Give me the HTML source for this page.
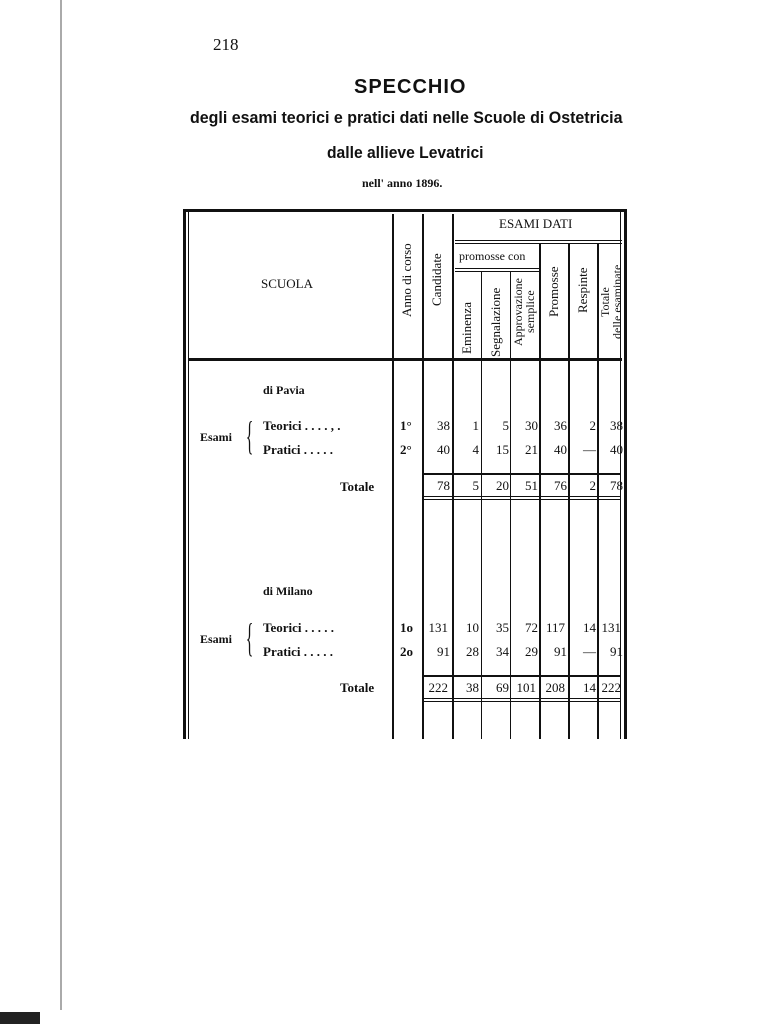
<!DOCTYPE html>
<html><head><meta charset="utf-8"><style>
body{margin:0;width:771px;height:1024px;background:#fff;position:relative;overflow:hidden;font-family:"Liberation Serif",serif;color:#111}
.a{position:absolute;white-space:nowrap}
.v{position:absolute;background:#111;width:2px}
.h{position:absolute;background:#111;height:2px}
.r{position:absolute;writing-mode:vertical-rl;transform:rotate(180deg);white-space:nowrap;font-size:13px;text-align:center;line-height:13px;height:130px}
.n{position:absolute;font-size:13px;text-align:right;width:26px}
.t{font-size:13px;font-weight:bold}
</style></head><body>
<div class="v" style="left:60px;top:0;height:1010px;width:2px;background:#aaa"></div>
<div class="v" style="left:0;top:1012px;height:12px;width:40px;background:#222"></div>
<div class="a" style="left:213px;top:35px;font-size:17px">218</div>
<div class="a" style="left:354px;top:76px;font-family:'Liberation Sans',sans-serif;font-weight:900;font-size:20px;letter-spacing:1px">SPECCHIO</div>
<div class="a" style="left:190px;top:108px;font-family:'Liberation Sans',sans-serif;font-weight:bold;font-size:17px;transform:scaleX(0.94);transform-origin:left">degli esami teorici e pratici dati nelle Scuole di Ostetricia</div>
<div class="a" style="left:327px;top:143px;font-family:'Liberation Sans',sans-serif;font-weight:bold;font-size:17px;transform:scaleX(0.92);transform-origin:left">dalle allieve Levatrici</div>
<div class="a" style="left:362px;top:176px;font-size:12px;font-weight:bold">nell' anno 1896.</div>

<div class="h" style="left:184px;top:209px;width:443px;height:3px"></div>
<div class="v" style="left:183px;top:209px;height:530px;width:3px"></div>
<div class="v" style="left:188px;top:212px;height:527px;width:1px"></div>
<div class="v" style="left:624px;top:209px;height:530px;width:3px"></div>
<div class="v" style="left:620px;top:212px;height:527px;width:1px"></div>
<div class="v" style="left:392px;top:214px;height:525px"></div>
<div class="v" style="left:422px;top:214px;height:525px"></div>
<div class="v" style="left:452px;top:214px;height:525px"></div>
<div class="v" style="left:481px;top:272px;height:467px;width:1px"></div>
<div class="v" style="left:510px;top:272px;height:467px;width:1px"></div>
<div class="v" style="left:539px;top:244px;height:495px"></div>
<div class="v" style="left:568px;top:244px;height:495px"></div>
<div class="v" style="left:597px;top:244px;height:495px"></div>
<div class="h" style="left:455px;top:240px;width:167px;height:1px"></div>
<div class="h" style="left:455px;top:243px;width:167px;height:1px"></div>
<div class="h" style="left:455px;top:268px;width:84px;height:1px"></div>
<div class="h" style="left:455px;top:271px;width:84px;height:1px"></div>
<div class="h" style="left:188px;top:358px;width:434px;height:3px"></div>

<div class="a" style="left:499px;top:216px;font-size:13px">ESAMI DATI</div>
<div class="a" style="left:459px;top:249px;font-size:12px">promosse con</div>
<div class="a t" style="left:261px;top:276px;font-weight:normal">SCUOLA</div>
<div class="r" style="left:400px;top:215px">Anno di corso</div>
<div class="r" style="left:430px;top:215px">Candidate</div>
<div class="r" style="left:460px;top:263px">Eminenza</div>
<div class="r" style="left:489px;top:257px">Segnalazione</div>
<div class="r" style="left:512px;top:247px;font-size:12px;line-height:12px">Approvazione<br>semplice</div>
<div class="r" style="left:547px;top:227px">Promosse</div>
<div class="r" style="left:576px;top:225px">Respinte</div>
<div class="r" style="left:599px;top:237px;font-size:12px;line-height:12px">Totale<br>delle esaminate</div>

<div class="a t" style="left:263px;top:383px;font-size:12px">di Pavia</div>
<div class="a t" style="left:200px;top:430px;font-size:12px">Esami</div>
<div class="a" style="left:240px;top:414px;font-size:40px;line-height:44px;transform:scaleX(0.4)">{</div>
<div class="a t" style="left:263px;top:418px">Teorici . . . . , .</div>
<div class="a t" style="left:263px;top:442px">Pratici . . . . .</div>
<div class="a t" style="left:340px;top:479px">Totale</div>
<div class="a t" style="left:400px;top:418px">1°</div>
<div class="a t" style="left:400px;top:442px">2°</div>
<div class="n" style="left:424px;top:418px">38</div><div class="n" style="left:424px;top:442px">40</div><div class="n" style="left:424px;top:478px">78</div>
<div class="n" style="left:453px;top:418px">1</div><div class="n" style="left:453px;top:442px">4</div><div class="n" style="left:453px;top:478px">5</div>
<div class="n" style="left:483px;top:418px">5</div><div class="n" style="left:483px;top:442px">15</div><div class="n" style="left:483px;top:478px">20</div>
<div class="n" style="left:512px;top:418px">30</div><div class="n" style="left:512px;top:442px">21</div><div class="n" style="left:512px;top:478px">51</div>
<div class="n" style="left:541px;top:418px">36</div><div class="n" style="left:541px;top:442px">40</div><div class="n" style="left:541px;top:478px">76</div>
<div class="n" style="left:570px;top:418px">2</div><div class="n" style="left:570px;top:442px">—</div><div class="n" style="left:570px;top:478px">2</div>
<div class="n" style="left:597px;top:418px">38</div><div class="n" style="left:597px;top:442px">40</div><div class="n" style="left:597px;top:478px">78</div>
<div class="h" style="left:424px;top:473px;width:196px"></div>
<div class="h" style="left:424px;top:496px;width:196px;height:1px"></div>
<div class="h" style="left:424px;top:499px;width:196px;height:1px"></div>

<div class="a t" style="left:263px;top:584px;font-size:12px">di Milano</div>
<div class="a t" style="left:200px;top:632px;font-size:12px">Esami</div>
<div class="a" style="left:240px;top:616px;font-size:40px;line-height:44px;transform:scaleX(0.4)">{</div>
<div class="a t" style="left:263px;top:620px">Teorici . . . . .</div>
<div class="a t" style="left:263px;top:644px">Pratici . . . . .</div>
<div class="a t" style="left:340px;top:680px">Totale</div>
<div class="a t" style="left:400px;top:620px">1o</div>
<div class="a t" style="left:400px;top:644px">2o</div>
<div class="n" style="left:422px;top:620px">131</div><div class="n" style="left:424px;top:644px">91</div><div class="n" style="left:422px;top:680px">222</div>
<div class="n" style="left:453px;top:620px">10</div><div class="n" style="left:453px;top:644px">28</div><div class="n" style="left:453px;top:680px">38</div>
<div class="n" style="left:483px;top:620px">35</div><div class="n" style="left:483px;top:644px">34</div><div class="n" style="left:483px;top:680px">69</div>
<div class="n" style="left:512px;top:620px">72</div><div class="n" style="left:512px;top:644px">29</div><div class="n" style="left:510px;top:680px">101</div>
<div class="n" style="left:539px;top:620px">117</div><div class="n" style="left:541px;top:644px">91</div><div class="n" style="left:539px;top:680px">208</div>
<div class="n" style="left:570px;top:620px">14</div><div class="n" style="left:570px;top:644px">—</div><div class="n" style="left:570px;top:680px">14</div>
<div class="n" style="left:595px;top:620px">131</div><div class="n" style="left:597px;top:644px">91</div><div class="n" style="left:595px;top:680px">222</div>
<div class="h" style="left:424px;top:675px;width:196px"></div>
<div class="h" style="left:424px;top:698px;width:196px;height:1px"></div>
<div class="h" style="left:424px;top:701px;width:196px;height:1px"></div>
</body></html>
